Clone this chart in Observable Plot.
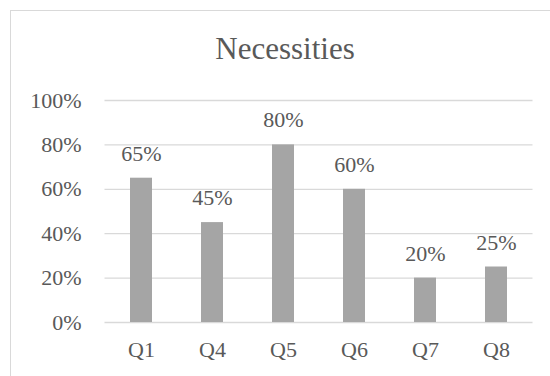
<!DOCTYPE html>
<html>
<head>
<meta charset="utf-8">
<script src="https://cdn.jsdelivr.net/npm/d3@7"></script>
<script src="https://cdn.jsdelivr.net/npm/@observablehq/plot@0.6"></script>
<style>
  html, body { margin: 0; padding: 0; background: #fff; }
  body { width: 550px; height: 376px; overflow: hidden; position: relative; }
  #frame { position: absolute; left: 10px; top: 10px; width: 600px; height: 450px;
           border-left: 1px solid #d9d9d9; border-top: 1px solid #d9d9d9; box-sizing: border-box; }
  #title { position: absolute; left: 0; top: 33px; width: 570px; text-align: center;
           font-family: "Liberation Serif", "Times New Roman", serif; font-size: 31px; line-height: 31px;
           color: #595959; }
  #chart { position: absolute; left: 0; top: 0; }
</style>
</head>
<body>
<div id="frame"></div>
<div id="chart"></div>
<div id="title">Necessities</div>
<script>
const categories = ["Q1", "Q4", "Q5", "Q6", "Q7", "Q8"];
const values = [0.65, 0.45, 0.80, 0.60, 0.20, 0.25];
const yTicks = [0, 0.2, 0.4, 0.6, 0.8, 1.0];

const data = categories.map((c, i) => ({category: c, value: values[i]}));
const pct = d3.format(".0%");

const chart = Plot.plot({
  width: 550,
  height: 376,
  marginLeft: 104.5,
  marginRight: 17.5,
  marginTop: 100,
  marginBottom: 54,
  style: {
    fontFamily: "'Liberation Serif', 'Times New Roman', serif",
    fontSize: "22px",
    color: "#595959",
    background: "transparent"
  },
  x: {domain: categories, paddingInner: 0.69, paddingOuter: 0.345, label: null},
  y: {domain: [0, 1], label: null},
  marks: [
    Plot.ruleY(yTicks, {stroke: "#d9d9d9", strokeWidth: 1.3}),
    Plot.barY(data, {x: "category", y: "value", fill: "#a5a5a5"}),
    Plot.text(data, {x: "category", y: "value", text: d => pct(d.value), dy: -24.5, fill: "#595959", fontSize: 22}),
    Plot.axisY({ticks: yTicks, tickFormat: pct, tickSize: 0, tickPadding: 23.5, label: null, fill: "#595959"}),
    Plot.axisX({tickSize: 0, tickPadding: 19, label: null, fill: "#595959"})
  ]
});
document.getElementById("chart").appendChild(chart);
</script>
</body>
</html>
